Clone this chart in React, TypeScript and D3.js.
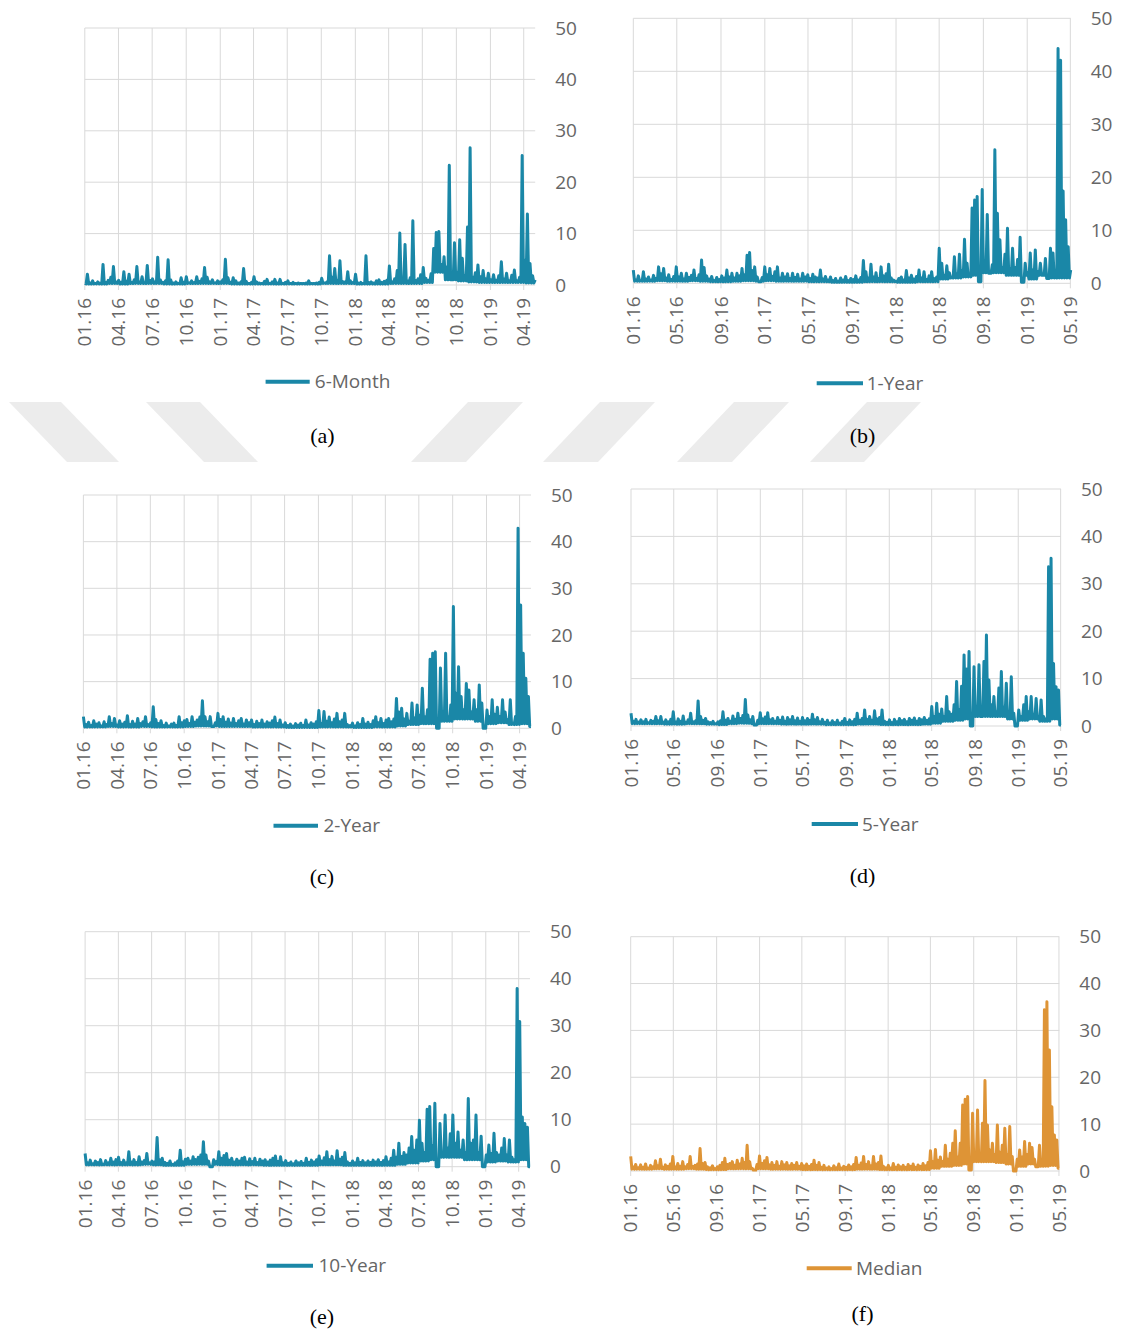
import React from 'react';
import * as d3 from 'd3';

// ---------- DATA (weekly readings, Jan 2016 – May 2019) ----------
const START = new Date(2016, 0, 1);
const END = new Date(2019, 4, 2);
const yTickValues = [0, 10, 20, 30, 40, 50];

// weekly readings (peaks / typical values)
const sixMonth = [
  0.3, 2.1, 0.4, 0.8, 0.3, 0.6, 0.4, 4.0, 0.5, 0.9,
  1.5, 3.6, 0.6, 0.9, 0.5, 2.6, 0.7, 2.1, 0.5, 1.0,
  3.6, 0.6, 1.6, 0.5, 3.8, 0.9, 1.2, 0.6, 5.4, 1.0,
  0.5, 0.8, 4.9, 1.0, 0.4, 0.6, 0.3, 1.4, 0.5, 1.6,
  0.4, 0.8, 0.5, 1.6, 0.7, 1.2, 3.4, 1.5, 0.6, 1.0,
  0.4, 0.8, 0.6, 1.0, 5.0, 1.4, 0.5, 1.4, 0.8, 0.4,
  0.6, 3.2, 0.7, 0.3, 0.5, 1.6, 0.6, 0.4, 0.3, 0.7,
  1.1, 0.3, 0.6, 1.1, 0.4, 1.1, 0.3, 0.5, 0.8, 0.3,
  0.5, 0.3, 0.4, 0.3, 0.3, 0.4, 0.8, 0.3, 0.3, 0.4,
  0.5, 1.3, 0.4, 0.6, 5.7, 1.5, 3.2, 0.8, 4.7, 0.7,
  0.6, 2.6, 0.8, 0.5, 2.1, 0.4, 0.5, 0.3, 5.7, 0.5,
  0.6, 0.4, 0.8, 1.0, 0.5, 0.7, 0.9, 3.7, 0.6, 1.2,
  2.8, 10.1, 1.0, 7.9, 0.8, 1.4, 12.5, 0.9, 1.2, 2.0,
  3.4, 1.3, 0.9, 2.2, 7.1, 10.2, 10.4, 4.0, 5.5, 3.5,
  23.3, 1.0, 8.2, 2.5, 8.8, 5.2, 1.8, 11.3, 26.7, 1.5,
  2.4, 3.9, 1.6, 2.8, 1.2, 2.3, 1.0, 2.0, 0.9, 1.8,
  4.5, 1.2, 2.3, 0.8, 1.9, 2.9, 0.8, 1.5, 25.2, 4.8,
  13.8, 4.2, 1.8, 1.0,
];

const oneYear = [
  2.5, 0.6, 1.4, 0.5, 2.2, 0.8, 1.2, 0.6, 1.5, 0.9,
  3.1, 1.8, 2.8, 1.0, 1.6, 0.7, 1.3, 3.1, 1.2, 1.9,
  0.8, 1.9, 1.1, 1.5, 2.5, 0.9, 1.6, 4.4, 3.0, 1.4,
  0.8, 1.3, 0.5, 1.1, 0.7, 1.4, 1.0, 2.5, 1.2, 1.9,
  1.0, 1.9, 1.4, 2.8, 1.6, 5.3, 5.8, 2.4, 3.1, 1.2,
  0.3, 1.1, 3.1, 1.6, 2.8, 1.3, 2.2, 3.1, 1.0, 1.9,
  1.2, 1.8, 0.9, 1.9, 1.1, 1.7, 0.8, 1.9, 1.2, 1.6,
  0.9, 1.7, 1.2, 1.0, 2.5, 0.8, 1.3, 0.6, 1.2, 0.5,
  0.9, 0.4, 1.0, 0.6, 1.3, 0.5, 0.9, 0.7, 1.4, 0.6,
  1.1, 4.3, 2.2, 1.0, 3.6, 1.2, 2.0, 0.9, 3.1, 1.4,
  1.8, 3.6, 1.0, 0.6, 0.4, 0.9, 1.2, 0.6, 2.4, 1.0,
  1.5, 0.8, 1.3, 2.5, 1.0, 2.2, 0.7, 1.4, 2.2, 0.9,
  1.2, 6.6, 3.8, 1.5, 3.3, 2.0, 1.2, 5.0, 1.8, 5.5,
  2.4, 8.3, 3.8, 1.5, 14.2, 15.7, 16.4, 0.3, 17.7, 4.0,
  13.0, 1.9, 3.5, 25.2, 13.2, 8.2, 3.0, 5.5, 10.4, 2.8,
  6.6, 3.0, 4.5, 8.7, 0.2, 3.8, 2.0, 5.7, 2.5, 6.3,
  2.2, 3.8, 1.5, 4.7, 0.9, 6.6, 5.7, 1.8, 44.3, 42.1,
  17.4, 12.0, 6.9, 2.5,
];

const twoYear = [
  2.5, 0.8, 1.3, 0.6, 1.6, 0.9, 1.2, 0.5, 1.4, 0.8,
  2.5, 1.0, 2.1, 0.7, 1.6, 0.9, 1.3, 2.7, 0.8, 1.5,
  0.9, 2.1, 1.0, 1.4, 2.5, 0.8, 1.2, 4.6, 1.9, 1.0,
  1.6, 0.6, 1.1, 0.5, 0.9, 1.1, 0.6, 2.5, 1.2, 1.6,
  1.9, 1.0, 2.5, 1.3, 1.8, 2.4, 5.9, 2.5, 1.4, 2.5,
  0.4, 1.2, 3.2, 1.9, 2.5, 1.3, 2.0, 1.1, 2.1, 1.0,
  1.6, 2.1, 0.9, 1.8, 1.2, 1.8, 0.8, 1.5, 1.0, 1.8,
  0.9, 1.4, 1.1, 1.6, 2.4, 1.0, 1.8, 0.7, 1.2, 0.6,
  0.9, 0.5, 1.0, 0.7, 1.1, 0.6, 1.8, 0.7, 1.2, 0.9,
  1.4, 3.8, 1.0, 3.6, 1.5, 2.4, 1.2, 2.0, 3.2, 1.4,
  1.8, 3.2, 0.8, 0.6, 1.1, 0.5, 1.2, 0.8, 2.1, 0.9,
  1.3, 0.8, 1.6, 2.5, 1.2, 2.1, 1.0, 1.8, 2.1, 1.4,
  2.0, 6.4, 3.5, 4.3, 2.0, 3.2, 1.5, 5.4, 2.2, 5.0,
  2.8, 8.6, 2.5, 4.0, 14.8, 16.1, 16.4, 0.0, 12.9, 3.5,
  16.1, 2.5, 5.0, 26.1, 7.5, 13.2, 6.8, 4.0, 9.6, 8.2,
  3.5, 6.1, 4.0, 9.3, 5.4, 0.0, 3.9, 2.5, 6.1, 3.0,
  4.5, 2.5, 6.1, 3.5, 1.8, 6.1, 1.1, 2.5, 42.9, 26.4,
  16.1, 10.7, 6.8, 0.4,
];

const fiveYear = [
  2.7, 1.0, 1.4, 0.8, 1.3, 0.9, 1.4, 0.7, 1.2, 1.0,
  2.0, 1.1, 2.0, 0.8, 1.3, 0.9, 1.4, 3.0, 0.9, 1.5,
  1.0, 2.1, 0.8, 1.3, 2.7, 0.9, 1.1, 5.3, 2.0, 1.2,
  1.6, 0.9, 0.7, 1.0, 0.5, 0.9, 1.1, 3.0, 1.2, 1.6,
  1.0, 2.1, 1.4, 2.7, 1.6, 2.2, 5.6, 2.3, 1.3, 2.0,
  0.2, 1.2, 2.8, 1.5, 1.9, 2.8, 1.3, 1.6, 1.0, 1.8,
  1.2, 1.9, 1.0, 1.8, 1.3, 2.0, 1.1, 1.7, 1.0, 1.8,
  1.1, 1.6, 1.2, 2.5, 1.3, 1.8, 0.9, 1.4, 0.8, 1.2,
  0.6, 1.1, 0.7, 1.2, 0.6, 1.0, 1.6, 0.8, 1.3, 0.9,
  1.4, 2.7, 1.2, 1.6, 3.4, 1.4, 2.0, 1.2, 3.2, 1.5,
  1.8, 3.4, 1.0, 0.8, 1.3, 0.7, 1.4, 0.9, 1.6, 1.1,
  1.4, 0.9, 1.6, 1.2, 1.7, 1.0, 1.6, 1.3, 1.8, 1.2,
  1.5, 4.1, 2.0, 4.8, 2.5, 3.6, 2.0, 6.2, 3.0, 2.5,
  4.5, 9.4, 3.5, 8.4, 15.0, 12.0, 15.7, 0.0, 12.5, 4.0,
  12.9, 2.0, 13.6, 19.2, 9.7, 4.5, 6.2, 3.0, 8.0, 11.5,
  4.0, 9.0, 3.0, 10.4, 2.7, 0.0, 3.4, 2.0, 4.5, 6.2,
  3.0, 6.2, 2.5, 5.8, 2.0, 5.5, 2.0, 1.5, 33.6, 35.4,
  13.2, 8.3, 7.6, 0.2,
];

const tenYear = [
  2.8, 0.8, 1.4, 0.6, 1.2, 0.9, 1.5, 0.5, 1.3, 0.8,
  1.8, 1.0, 1.5, 2.0, 0.9, 1.4, 0.8, 3.2, 1.0, 1.5,
  0.9, 2.1, 1.0, 1.3, 2.8, 0.8, 1.2, 1.0, 6.2, 1.5,
  1.8, 0.9, 0.7, 1.2, 0.5, 0.8, 1.2, 3.5, 1.0, 1.6,
  1.8, 1.2, 2.1, 1.5, 2.0, 2.5, 5.3, 2.5, 1.2, 0.0,
  1.5, 1.1, 3.2, 1.8, 2.4, 2.8, 1.4, 1.8, 1.0, 1.6,
  1.2, 1.8, 2.0, 1.0, 1.7, 1.1, 1.8, 0.9, 1.6, 1.2,
  1.5, 1.0, 1.4, 1.8, 2.3, 1.1, 2.1, 0.8, 1.3, 0.7,
  1.0, 0.6, 1.2, 0.8, 1.1, 0.7, 1.8, 0.9, 1.4, 1.0,
  1.5, 2.3, 1.2, 1.9, 3.2, 1.5, 2.2, 1.2, 3.4, 1.6,
  2.0, 3.0, 1.0, 0.7, 1.2, 0.8, 1.8, 0.9, 1.3, 0.8,
  1.2, 0.9, 1.4, 1.0, 1.5, 0.9, 1.3, 2.1, 1.0, 1.8,
  3.5, 2.0, 5.0, 2.2, 3.0, 2.5, 4.0, 6.4, 3.5, 5.7,
  9.9, 5.0, 3.0, 12.2, 12.8, 4.5, 13.5, 0.0, 9.2, 2.5,
  11.0, 4.0, 7.0, 11.0, 5.0, 7.4, 3.5, 5.7, 3.0, 14.5,
  5.0, 5.7, 11.0, 3.0, 6.5, 0.0, 2.5, 4.6, 2.8, 7.1,
  3.0, 2.5, 4.0, 6.0, 2.5, 5.7, 2.0, 1.5, 37.9, 30.9,
  10.6, 9.2, 8.4, 0.0,
];

const median = [
  3.1, 0.9, 1.4, 0.7, 1.3, 0.8, 1.5, 0.6, 1.2, 0.9,
  2.2, 1.1, 2.5, 0.8, 1.3, 1.0, 1.5, 3.1, 0.9, 1.6,
  1.0, 2.0, 0.9, 1.4, 3.1, 1.0, 1.2, 1.5, 4.8, 1.6,
  1.8, 0.9, 0.7, 1.1, 0.5, 0.9, 1.2, 1.8, 2.7, 1.4,
  1.6, 2.0, 1.2, 2.3, 1.5, 2.7, 1.8, 5.5, 2.0, 0.6,
  0.2, 1.4, 3.2, 1.6, 2.2, 2.9, 1.3, 1.8, 1.2, 2.0,
  1.0, 2.0, 1.3, 1.8, 1.1, 1.6, 1.2, 1.8, 1.0, 1.6,
  1.1, 1.5, 1.0, 1.4, 2.3, 1.2, 1.8, 0.8, 1.2, 0.6,
  0.9, 0.5, 1.1, 0.7, 1.5, 0.6, 1.0, 0.8, 1.3, 0.9,
  1.4, 2.9, 1.2, 1.7, 3.1, 1.4, 2.0, 1.1, 3.1, 1.5,
  1.8, 3.2, 1.0, 0.7, 1.2, 0.6, 1.6, 0.8, 1.3, 0.9,
  1.2, 0.8, 1.4, 1.0, 1.5, 0.8, 1.3, 1.0, 1.6, 1.1,
  1.8, 4.3, 2.0, 4.6, 2.3, 3.0, 2.0, 5.5, 2.5, 3.8,
  5.9, 8.6, 3.0, 5.9, 14.1, 15.3, 15.9, 0.2, 12.3, 3.0,
  13.0, 2.5, 10.2, 19.3, 9.8, 4.5, 5.9, 3.5, 9.8, 4.0,
  5.5, 9.1, 3.5, 9.5, 3.1, 0.0, 2.5, 4.5, 3.0, 6.3,
  3.5, 5.9, 5.0, 2.5, 0.9, 5.5, 2.0, 34.4, 36.1, 25.8,
  13.7, 7.7, 6.6, 0.6,
];

// monthly floor of the daily noise band (Jan 2016 .. May 2019, 41 months)
const sixMonthLow = [
  0.2, 0.2, 0.3, 0.2, 0.3, 0.3, 0.3, 0.2, 0.2, 0.3, 0.3, 0.3,
  0.3, 0.2, 0.2, 0.2, 0.2, 0.2, 0.2, 0.2, 0.2, 0.3, 0.3, 0.3,
  0.2, 0.2, 0.2, 0.3, 0.3, 0.3, 0.5, 2.5, 1.0, 0.8, 0.6, 0.5,
  0.5, 0.5, 0.5, 0.4, 0.3,
];
const oneYearLow = [
  0.4, 0.4, 0.5, 0.4, 0.4, 0.5, 0.4, 0.3, 0.3, 0.4, 0.5, 0.4,
  0.5, 0.4, 0.4, 0.4, 0.3, 0.3, 0.2, 0.2, 0.2, 0.3, 0.3, 0.3,
  0.2, 0.2, 0.3, 0.3, 0.8, 1.0, 1.2, 1.5, 2.0, 2.0, 1.5, 1.5,
  0.8, 1.5, 1.0, 1.0, 0.5,
];
const twoYearLow = [
  0.3, 0.3, 0.4, 0.3, 0.3, 0.4, 0.3, 0.3, 0.3, 0.4, 0.5, 0.5,
  0.4, 0.4, 0.4, 0.3, 0.3, 0.3, 0.2, 0.2, 0.2, 0.3, 0.3, 0.3,
  0.2, 0.2, 0.3, 0.3, 0.5, 0.8, 1.0, 1.0, 1.5, 2.0, 2.0, 1.5,
  1.0, 1.2, 0.8, 1.0, 0.2,
];
const fiveYearLow = [
  0.5, 0.5, 0.5, 0.4, 0.4, 0.5, 0.5, 0.4, 0.3, 0.5, 0.6, 0.5,
  0.5, 0.5, 0.4, 0.4, 0.4, 0.4, 0.3, 0.3, 0.3, 0.4, 0.4, 0.3,
  0.3, 0.3, 0.3, 0.4, 0.6, 1.0, 1.2, 1.5, 2.0, 2.0, 2.0, 1.5,
  1.2, 1.5, 1.0, 1.5, 0.2,
];
const tenYearLow = [
  0.4, 0.4, 0.4, 0.4, 0.4, 0.5, 0.4, 0.3, 0.3, 0.5, 0.5, 0.5,
  0.4, 0.4, 0.4, 0.4, 0.3, 0.3, 0.3, 0.3, 0.3, 0.4, 0.4, 0.3,
  0.3, 0.3, 0.3, 0.3, 0.5, 0.8, 1.2, 1.5, 2.0, 2.0, 1.5, 1.5,
  1.0, 1.2, 1.0, 1.5, 0.2,
];
const medianLow = [
  0.4, 0.4, 0.5, 0.4, 0.4, 0.5, 0.4, 0.3, 0.3, 0.5, 0.5, 0.5,
  0.5, 0.4, 0.4, 0.4, 0.3, 0.3, 0.3, 0.3, 0.3, 0.4, 0.4, 0.3,
  0.3, 0.3, 0.3, 0.3, 0.6, 1.0, 1.2, 1.5, 2.0, 2.0, 1.8, 1.5,
  1.0, 1.5, 1.0, 1.2, 0.2,
];

// ---------- STYLE / LAYOUT ----------
const TEAL = '#1a87a7';
const ORANGE = '#de9436';
const GRID = '#d9d9d9';
const TEXT = '#666666';
const SANS = '"Open Sans", "DejaVu Sans", sans-serif';
const SERIF = '"Liberation Serif", "Times New Roman", serif';

const panels = [
  { name: '6-Month', values: sixMonth, lows: sixMonthLow, color: TEAL, L: 84.8, R: 535.2, T: 28, B: 285, months: 3,
    lg: { x1: 265.6, x2: 309.7, y: 381.7, tx: 314.8 }, cap: '(a)', cx: 322.5, cy: 443 },
  { name: '1-Year', values: oneYear, lows: oneYearLow, color: TEAL, L: 633.3, R: 1070.7, T: 18.3, B: 283.3, months: 4,
    lg: { x1: 816.7, x2: 863, y: 383.3, tx: 866.7 }, cap: '(b)', cx: 862.5, cy: 443 },
  { name: '2-Year', values: twoYear, lows: twoYearLow, color: TEAL, L: 83.4, R: 531, T: 495, B: 728.3, months: 3,
    lg: { x1: 273.5, x2: 318, y: 825.7, tx: 323.5 }, cap: '(c)', cx: 322, cy: 884 },
  { name: '5-Year', values: fiveYear, lows: fiveYearLow, color: TEAL, L: 631, R: 1061, T: 489, B: 726, months: 4,
    lg: { x1: 811.7, x2: 858, y: 824, tx: 862 }, cap: '(d)', cx: 862.5, cy: 883 },
  { name: '10-Year', values: tenYear, lows: tenYearLow, color: TEAL, L: 85.1, R: 530, T: 931.7, B: 1166.7, months: 3,
    lg: { x1: 266.6, x2: 313, y: 1265.7, tx: 318.5 }, cap: '(e)', cx: 322, cy: 1324 },
  { name: 'Median', values: median, lows: medianLow, color: ORANGE, L: 630.7, R: 1059.3, T: 936.7, B: 1171, months: 4,
    lg: { x1: 806.7, x2: 851.7, y: 1268.3, tx: 856 }, cap: '(f)', cx: 862.5, cy: 1321 },
];

// decorative watermark band (thesis-page background)
const band = { y0: 402, y1: 462 };
const stripes = [
  { x: 9, w: 52, dx: 58 },
  { x: 146, w: 54, dx: 58 },
  { x: 468, w: 55, dx: -57 },
  { x: 600, w: 55, dx: -57 },
  { x: 734, w: 55, dx: -57 },
  { x: 867, w: 54, dx: -57 },
];

function Panel({ p }: { p: any }) {
  const x = d3.scaleTime().domain([START, END]).range([p.L, p.R]);
  const y = d3.scaleLinear().domain([0, 50]).range([p.B, p.T]);
  const n = p.values.length;
  const dateAt = d3.scaleLinear().domain([0, n - 1]).range([START.getTime(), END.getTime()]);
  const half = (dateAt(1) - dateAt(0)) / 2;
  // weekly reading followed by that month's noise floor, as the daily series oscillates
  const pts: [number, number][] = [];
  p.values.forEach((v: number, i: number) => {
    const t = dateAt(i);
    pts.push([t, v]);
    if (i < n - 1) {
      const tm = t + half;
      const m = Math.min(p.lows.length - 1, d3.timeMonth.count(START, new Date(tm)));
      pts.push([tm, Math.min(p.lows[m], v, p.values[i + 1])]);
    }
  });
  const line = d3
    .line<[number, number]>()
    .x((d) => x(new Date(d[0])))
    .y((d) => y(d[1]));
  const xTicks = x.ticks(d3.timeMonth.every(p.months) as any);
  const fmt = d3.timeFormat('%m.%y');
  return (
    <g>
      {yTickValues.map((t) => (
        <line key={'h' + t} x1={p.L} x2={p.R} y1={y(t)} y2={y(t)} stroke={GRID} strokeWidth={1} />
      ))}
      {xTicks.map((t, i) => (
        <line key={'v' + i} x1={x(t)} x2={x(t)} y1={p.T} y2={p.B + 5} stroke={GRID} strokeWidth={1} />
      ))}
      <path d={line(pts) || ''} fill="none" stroke={p.color} strokeWidth={3} strokeLinejoin="round" />
      {yTickValues.map((t) => (
        <text key={'yl' + t} x={p.R + 20} y={y(t)} dy="0.35em" fontFamily={SANS} fontSize={19} fill={TEXT}>
          {t}
        </text>
      ))}
      {xTicks.map((t, i) => (
        <text
          key={'xl' + i}
          transform={`translate(${x(t)},${p.B + 13}) rotate(-90)`}
          textAnchor="end"
          dy="0.35em"
          fontFamily={SANS}
          fontSize={19}
          fill={TEXT}
        >
          {fmt(t)}
        </text>
      ))}
      <line x1={p.lg.x1} x2={p.lg.x2} y1={p.lg.y} y2={p.lg.y} stroke={p.color} strokeWidth={4} />
      <text x={p.lg.tx} y={p.lg.y} dy="0.35em" fontFamily={SANS} fontSize={19} fill={TEXT}>
        {p.name}
      </text>
      <text x={p.cx} y={p.cy} textAnchor="middle" fontFamily={SERIF} fontSize={22} fill="#000">
        {p.cap}
      </text>
    </g>
  );
}

export default function App() {
  const h = band.y1 - band.y0;
  return (
    <svg
      width={1121}
      height={1333}
      viewBox="0 0 1121 1333"
      style={{ position: 'absolute', left: 0, top: 0, background: '#fff' }}
    >
      <rect x={0} y={0} width={1121} height={1333} fill="#fff" />
      {stripes.map((s, i) => (
        <polygon
          key={i}
          points={`${s.x},${band.y0} ${s.x + s.w},${band.y0} ${s.x + s.w + s.dx},${band.y0 + h} ${s.x + s.dx},${band.y0 + h}`}
          fill="#ececec"
        />
      ))}
      {panels.map((p) => (
        <Panel key={p.name} p={p} />
      ))}
    </svg>
  );
}
